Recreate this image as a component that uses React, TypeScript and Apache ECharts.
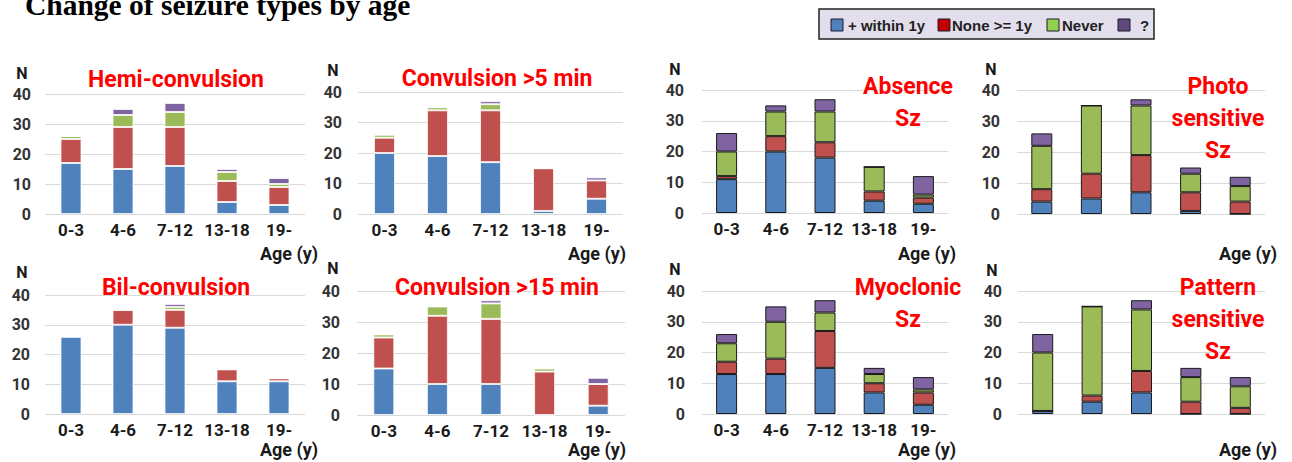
import React, { useEffect, useRef } from "react";
import * as echarts from "echarts";

// ---------- data ----------
const categories = ["0-3", "4-6", "7-12", "13-18", "19-"];
const seriesNames = ["+ within 1y", "None >= 1y", "Never", "?"];
const yTicks = [0, 10, 20, 30, 40];

const hemiWithin = [17, 15, 16, 4, 3];
const hemiNone = [8, 14, 13, 7, 6];
const hemiNever = [1, 4, 5, 3, 1];
const hemiUnknown = [0, 2, 3, 1, 2];

const conv5Within = [20, 19, 17, 1, 5];
const conv5None = [5, 15, 17, 14, 6];
const conv5Never = [1, 1, 2, 0, 0];
const conv5Unknown = [0, 0, 1, 0, 1];

const absWithin = [11, 20, 18, 4, 3];
const absNone = [1, 5, 5, 3, 2];
const absNever = [8, 8, 10, 8, 1];
const absUnknown = [6, 2, 4, 0, 6];

const photoWithin = [4, 5, 7, 1, 0];
const photoNone = [4, 8, 12, 6, 4];
const photoNever = [14, 22, 16, 6, 5];
const photoUnknown = [4, 0, 2, 2, 3];

const bilWithin = [26, 30, 29, 11, 11];
const bilNone = [0, 5, 6, 4, 1];
const bilNever = [0, 0, 1, 0, 0];
const bilUnknown = [0, 0, 1, 0, 0];

const conv15Within = [15, 10, 10, 0, 3];
const conv15None = [10, 22, 21, 14, 7];
const conv15Never = [1, 3, 5, 1, 0];
const conv15Unknown = [0, 0, 1, 0, 2];

const myoWithin = [13, 13, 15, 7, 3];
const myoNone = [4, 5, 12, 3, 4];
const myoNever = [6, 12, 6, 3, 1];
const myoUnknown = [3, 5, 4, 2, 4];

const patWithin = [1, 4, 7, 0, 0];
const patNone = [0, 2, 7, 4, 2];
const patNever = [19, 29, 20, 8, 7];
const patUnknown = [6, 0, 3, 3, 3];

const panelTitles = [
  "Hemi-convulsion",
  "Convulsion >5 min",
  "Absence\nSz",
  "Photo\nsensitive\nSz",
  "Bil-convulsion",
  "Convulsion >15 min",
  "Myoclonic\nSz",
  "Pattern\nsensitive\nSz",
];

const panelData = [
  [hemiWithin, hemiNone, hemiNever, hemiUnknown],
  [conv5Within, conv5None, conv5Never, conv5Unknown],
  [absWithin, absNone, absNever, absUnknown],
  [photoWithin, photoNone, photoNever, photoUnknown],
  [bilWithin, bilNone, bilNever, bilUnknown],
  [conv15Within, conv15None, conv15Never, conv15Unknown],
  [myoWithin, myoNone, myoNever, myoUnknown],
  [patWithin, patNone, patNever, patUnknown],
];

// ---------- layout / style ----------
const barColors = ["#4f81bd", "#c0504d", "#9bbb59", "#8064a2"];
const legendColors = ["#4f81bd", "#c00000", "#92d050", "#604a7b"];

type Panel = {
  l: number; r: number; t: number; b: number; lm: number;
  tx: number; ty: number; nx: number; ny: number; ax: number; ay: number;
  showX: boolean; dark: boolean;
};

const panels: Panel[] = [
  { l: 45, r: 305, t: 94, b: 214, lm: 14, tx: 176, ty: 79, nx: 22, ny: 73, ax: 289, ay: 253, showX: true, dark: false },
  { l: 358, r: 623, t: 92, b: 214, lm: 16, tx: 497, ty: 78, nx: 333, ny: 70, ax: 597, ay: 253, showX: true, dark: false },
  { l: 702, r: 948, t: 90, b: 213, lm: 18, tx: 908, ty: 102, nx: 675, ny: 69, ax: 927, ay: 253, showX: true, dark: true },
  { l: 1017, r: 1265, t: 90, b: 214, lm: 17, tx: 1218, ty: 118, nx: 991, ny: 69, ax: 1248, ay: 253, showX: false, dark: true },
  { l: 45, r: 305, t: 295, b: 414, lm: 15, tx: 176, ty: 287, nx: 22, ny: 272, ax: 289, ay: 449, showX: true, dark: false },
  { l: 357, r: 625, t: 291, b: 415, lm: 17, tx: 497, ty: 287, nx: 333, ny: 268, ax: 597, ay: 449, showX: true, dark: false },
  { l: 702, r: 948, t: 291, b: 414, lm: 17, tx: 908, ty: 303, nx: 675, ny: 269, ax: 927, ay: 449, showX: true, dark: true },
  { l: 1018, r: 1265, t: 291, b: 414, lm: 16, tx: 1218, ty: 319, nx: 992, ny: 270, ax: 1248, ay: 449, showX: false, dark: true },
];

const SANS = "Roboto, 'Noto Sans', sans-serif";

function buildOption() {
  const grid = panels.map((p) => ({
    left: p.l,
    top: p.t,
    width: p.r - p.l,
    height: p.b - p.t,
  }));
  const xAxis = panels.map((p, i) => ({
    type: "category",
    gridIndex: i,
    data: categories,
    axisLine: { show: false },
    axisTick: { show: false },
    axisLabel: {
      show: p.showX,
      interval: 0,
      margin: 7,
      fontFamily: SANS,
      fontWeight: "bold",
      fontSize: 17,
      color: "#1a1a1a",
    },
  }));
  const yAxis = panels.map((p, i) => ({
    type: "value",
    gridIndex: i,
    min: yTicks[0],
    max: yTicks[yTicks.length - 1],
    interval: yTicks[1] - yTicks[0],
    axisLine: { show: false },
    axisTick: { show: false },
    splitLine: { lineStyle: { color: "#d9d9d9", width: 1 } },
    axisLabel: {
      margin: p.lm,
      fontFamily: SANS,
      fontWeight: "bold",
      fontSize: 16,
      color: "#333333",
    },
  }));
  const series: any[] = [];
  panels.forEach((p, i) => {
    panelData[i].forEach((vals, k) => {
      series.push({
        type: "bar",
        name: seriesNames[k],
        xAxisIndex: i,
        yAxisIndex: i,
        stack: "s" + i,
        barWidth: 21,
        data: vals,
        itemStyle: {
          color: barColors[k],
          borderColor: p.dark ? "#1a1a1a" : "rgba(255,255,255,0.75)",
          borderWidth: 1,
        },
      });
    });
  });

  const graphic: any[] = [];
  graphic.push({
    type: "text",
    x: 25,
    y: 5,
    z: 100,
    style: {
      text: "Change of seizure types by age",
      font: "bold 29.5px 'Liberation Serif', 'Times New Roman', serif",
      fill: "#000",
      verticalAlign: "middle",
      align: "left",
    },
  });
  // legend
  graphic.push({
    type: "rect",
    z: 100,
    shape: { x: 819, y: 9, width: 335, height: 30 },
    style: { fill: "#e2deec", stroke: "#222", lineWidth: 1.5 },
  });
  const lgSq = [831, 938, 1047, 1118];
  const lgTx = [848, 952, 1062, 1140];
  seriesNames.forEach((n, k) => {
    graphic.push({
      type: "rect",
      z: 101,
      shape: { x: lgSq[k], y: 19, width: 12, height: 12 },
      style: { fill: legendColors[k], stroke: "#1a1a2e", lineWidth: 1 },
    });
    graphic.push({
      type: "text",
      z: 101,
      x: lgTx[k],
      y: 25,
      style: {
        text: n,
        font: "bold 15px 'Liberation Sans', Arial, sans-serif",
        fill: "#222",
        verticalAlign: "middle",
        align: "left",
      },
    });
  });
  panels.forEach((p, i) => {
    graphic.push({
      type: "text",
      z: 100,
      x: p.tx,
      y: p.ty,
      style: {
        text: panelTitles[i],
        font: "bold 23px " + SANS,
        fill: "#ff0000",
        align: "center",
        verticalAlign: "middle",
        lineHeight: 32,
      },
    });
    graphic.push({
      type: "text",
      z: 100,
      x: p.nx,
      y: p.ny,
      style: {
        text: "N",
        font: "bold 16px " + SANS,
        fill: "#1a1a1a",
        align: "center",
        verticalAlign: "middle",
      },
    });
    graphic.push({
      type: "text",
      z: 100,
      x: p.ax,
      y: p.ay,
      style: {
        text: "Age (y)",
        font: "bold 18px " + SANS,
        fill: "#1a1a1a",
        align: "center",
        verticalAlign: "middle",
      },
    });
  });

  return {
    animation: false,
    backgroundColor: "#ffffff",
    grid,
    xAxis,
    yAxis,
    series,
    graphic,
  };
}

export default function App() {
  const ref = useRef<HTMLDivElement>(null);
  useEffect(() => {
    if (!ref.current) return;
    const chart = echarts.init(ref.current, undefined, { renderer: "svg" });
    chart.setOption(buildOption() as any);
    return () => chart.dispose();
  }, []);
  return (
    <div
      ref={ref}
      style={{ position: "fixed", left: 0, top: 0, width: 1292, height: 462 }}
    />
  );
}
